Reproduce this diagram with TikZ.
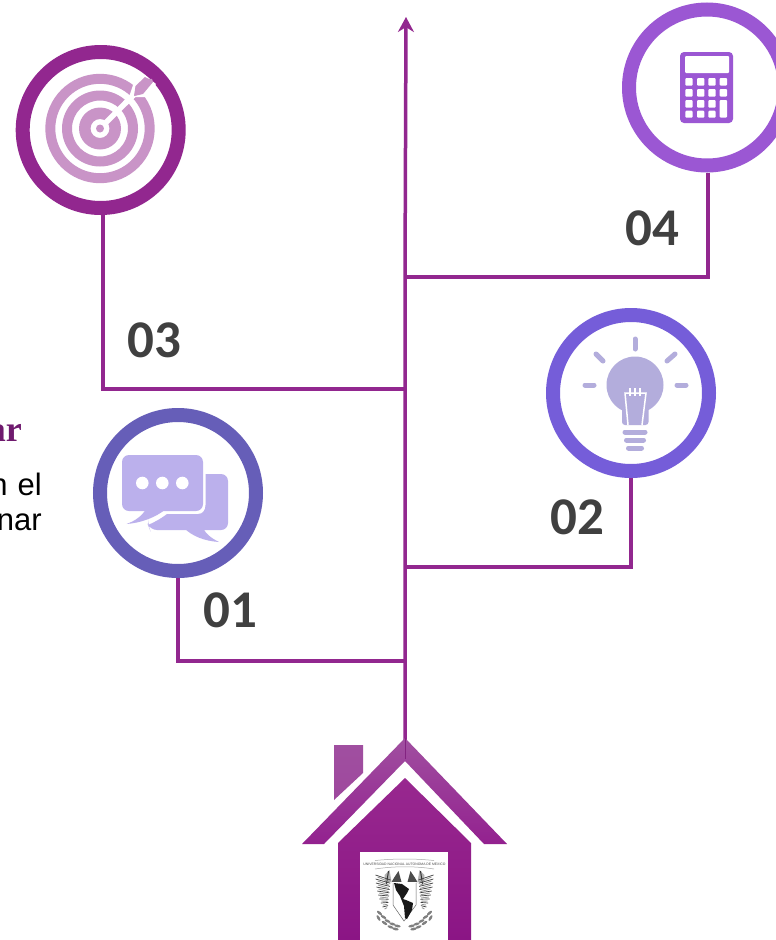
\documentclass[tikz,border=0pt]{standalone}
\usepackage{fontspec}
\setmainfont{Liberation Sans}
\newfontfamily\numfont{Carlito}
\newfontfamily\headfont{Liberation Serif}
\usetikzlibrary{arrows.meta}
\definecolor{linec}{HTML}{92278F}
\definecolor{ringa}{HTML}{665EB8}
\definecolor{ringb}{HTML}{755DD9}
\definecolor{ringc}{HTML}{92278F}
\definecolor{ringd}{HTML}{9B57D3}
\definecolor{icona}{HTML}{BBB0EC}
\definecolor{iconb}{HTML}{B3ADDC}
\definecolor{iconc}{HTML}{C994C7}
\definecolor{numc}{HTML}{404040}
\definecolor{headc}{HTML}{6F1A6E}
\definecolor{rooftop}{HTML}{A04FA0}
\definecolor{roofbot}{HTML}{93218F}
\definecolor{bodytop}{HTML}{98288F}
\definecolor{bodybot}{HTML}{8B1585}
\tikzset{
  ring/.style={circle,draw=#1,line width=14pt,minimum size=156pt,inner sep=0pt,fill=white},
  link/.style={draw=linec,line width=3.5pt,line join=miter},
  numlabel/.style={anchor=base west,inner sep=0pt,text=numc,font=\numfont\bfseries\fontsize{53}{53}\selectfont},
  bodytext/.style={anchor=base east,inner sep=0pt,text=black,font=\fontsize{31}{35}\selectfont},
  headtext/.style={anchor=base east,inner sep=0pt,text=headc,font=\headfont\bfseries\fontsize{36}{38}\selectfont},
  ray/.style={draw=iconb,line width=5pt,line cap=round},
  bulbbar/.style={draw=iconb,line width=5pt,line cap=round},
  filament/.style={draw=white,line width=1.5pt},
  calckey/.style={fill=white,rounded corners=1pt},
  feather/.style={draw=black!75,line width=.7pt},
  featherb/.style={draw=black!40,line width=.9pt},
  leaf/.style={fill=black!50},
}
\begin{document}
\begin{tikzpicture}[x=1pt,y=-1pt]
\clip (0,0) rectangle (776,940);
\fill[white] (0,0) rectangle (776,940);

% text cut by the left edge
\node[headtext] (headline) at (22,441.5) {ar};
\node[bodytext] (bodya) at (42,495) {n\hspace{10pt}el};
\node[bodytext] (bodyb) at (42,530) {nar};

% rings
\node[ring=ringa] (c1) at (178,493) {};
\node[ring=ringb] (c2) at (631,393) {};
\node[ring=ringc] (c3) at (100.7,130) {};
\node[ring=ringd] (c4) at (707,87.5) {};

% connectors
\coordinate (base) at (405,740);
\coordinate (tip) at (406,17);
\coordinate (j1) at (178,661);
\coordinate (j2) at (631,567);
\coordinate (j3) at (103,389);
\coordinate (j4) at (708,277);
\coordinate (t1) at (405,661);
\coordinate (t2) at (405,567);
\coordinate (t3) at (405,389);
\coordinate (t4) at (405,277);
\draw[link] (j1 |- c1.south) -- (j1) -- (t1);
\draw[link] (j2 |- c2.south) -- (j2) -- (t2);
\draw[link] (j3 |- c3.south) -- (j3) -- (t3);
\draw[link] (j4 |- c4.south) -- (j4) -- (t4);
\draw[link,-{Stealth[length=15pt,width=16pt]}] (base) -- (t4) -- (tip);

% number labels
\node[numlabel] (n1) at (203,627) {01};
\node[numlabel] (n2) at (550,534) {02};
\node[numlabel] (n3) at (127,357) {03};
\node[numlabel] (n4) at (625,245) {04};

% chat icon
\fill[icona,rounded corners=7pt] (122,455) rectangle (203,511);
\fill[icona] (146,509) .. controls (142,516) and (135,521) .. (126.5,524) .. controls (140,523) and (155,518) .. (166,509) -- cycle;
\fill[white] (142.3,483) circle (6.3) (162.3,483) circle (6.3) (182.3,483) circle (6.3);
\fill[icona,rounded corners=7pt] (205.5,474) -- (228,474) -- (228,530) -- (150,530) -- (148,525) [sharp corners] -- (148,525) .. controls (155,522) and (162,518) .. (167,514) -- (198,514) .. controls (203,514) and (205.5,510) .. (205.5,505) -- cycle;
\fill[icona] (184,528) .. controls (192,536) and (204,541) .. (219,542) .. controls (211,538) and (206,534) .. (203,528) -- cycle;

% bulb icon
\fill[iconb] (635,385) circle (28.5);
\fill[iconb,rounded corners=3pt] (622,395) -- (622,425) -- (648.5,425) -- (648.5,395) -- cycle;
\draw[ray] (635,339) -- (635,349);
\draw[ray] (585,385) -- (594,385);
\draw[ray] (677,385) -- (686,385);
\draw[ray] (596,354) -- (603,361);
\draw[ray] (675,354) -- (667,361);
\draw[bulbbar] (625,432) -- (645,432);
\draw[bulbbar] (626.5,440) -- (643.5,440);
\draw[bulbbar] (628.5,448) -- (641.5,448);
\draw[filament] (628,425) -- (625,393) -- (646,393) -- (642,425);
\draw[filament,line width=1.2pt] (630,388) -- (630,396) (635,388) -- (635,396) (640,388) -- (640,396);

% target icon
\fill[iconc,even odd rule] (100,128.5) circle (54.7) (100,128.5) circle (44.7);
\fill[iconc,even odd rule] (100,128.5) circle (38) (100,128.5) circle (28);
\fill[iconc,even odd rule] (100,128.5) circle (21) (100,128.5) circle (9.5);
\fill[iconc] (100,128.5) circle (4);
\draw[white,line width=5.5pt] (105,123.5) -- (136,92.5);
\fill[white] (129,97) -- (133,85) -- (145,75) -- (156,84) -- (145,97) -- cycle;
\fill[iconc] (134,96) -- (135.5,86) -- (145,77) -- (148,78.5) -- (152,79) -- (153,82) -- (143,94) -- cycle;
\draw[white,line width=5.5pt] (125,103.5) -- (134,94.5);
\fill[iconc] (134,96) -- (137,87) -- (143,93) -- cycle;

% calculator icon
\fill[ringd,rounded corners=4pt] (680,52) rectangle (733,123);
\fill[calckey] (685,56) rectangle (729,73);
\foreach \kx in {685.3,697,708.3,719.7}{
  \foreach \ky/\kh in {78/85.7,89/96.7}{
    \fill[calckey] (\kx,\ky) rectangle ({\kx+7.3},\kh);
  }
}
\foreach \kx in {685.3,697,708.3}{
  \fill[calckey] (\kx,100) rectangle ({\kx+7.3},107.7);
  \fill[calckey] (\kx,110.7) rectangle ({\kx+7.3},117.7);
}
\fill[calckey] (719.7,100) rectangle (727,117.7);

% house
\path[top color=rooftop,bottom color=rooftop!85!roofbot] (334,745) -- (363,745) -- (363,773) -- (334,800) -- cycle;
\path[top color=rooftop,bottom color=roofbot] (405,738) -- (507,844) -- (484,844) -- (405,761) -- (324,844) -- (302,844) -- cycle;
\draw[linec!90!black,line width=1pt] (405,738) -- (405,759);
\path[top color=bodytop,bottom color=bodybot] (405,778) -- (471,843) -- (471,940) -- (338,940) -- (338,843) -- cycle;
\fill[white] (360,852) rectangle (448,940);

% crest: banner with its title
\draw[black!35,line width=.5pt] (375,869) .. controls (395,866) and (415,866) .. (434,869);
\draw[black!35,line width=.5pt] (375,860.5) .. controls (395,858.5) and (415,858.5) .. (434,860.5);
\node[inner sep=0pt,text=black!70,font=\fontsize{3.4}{4}\selectfont] (cresttitle) at (404.5,864) {UNIVERSIDAD NACIONAL AUTONOMA DE MEXICO};
% crest: the two mirrored halves
\foreach \sgn in {1,-1}{
\begin{scope}[shift={(404.5,0)},xscale=\sgn]
  \fill[black!70] (3,882) -- (6,871) -- (10,877) -- (13,882) -- cycle;
  \fill[black!30] (13,882) -- (15,870) -- (20,875) -- (19,883) -- cycle;
  \draw[black!80,line width=1pt] (16,871) -- (18,884);
  \foreach \i in {0,...,8}{
    \draw[feather] ({29-\i*\i*.11},{875+\i*4}) -- ({14+\i*.3},{880+\i*3.2});
    \draw[featherb] ({27-\i*\i*.11},{877+\i*4}) -- ({15+\i*.3},{882+\i*3.2});
  }
  \foreach \lx/\ly/\la in {25/913/40,21/917/30,17/921/25,12/924/15,7/926/10,26/918/60,20/923/35,14/927/20,9/929/10}{
    \fill[leaf,rotate around={\la:(\lx,\ly)}] (\lx,\ly) ellipse (3.2 and 1.3);
  }
\end{scope}
}
% crest: shield and map
\fill[white] (392,882) -- (416,882) -- (417,905) -- (404,921) -- (393,905) -- cycle;
\draw[black!60,line width=.5pt] (393,883) -- (393,905) -- (404,921) -- (416,905) -- (416,883);
\fill[black!90] (394,883) -- (402,884) -- (409,889) -- (407,893) -- (403,899) -- (406,900) -- (413,903) -- (412,910) -- (407,919) -- (405,918) -- (404,906) -- (400,896) -- (396,890) -- cycle;
\end{tikzpicture}
\end{document}
